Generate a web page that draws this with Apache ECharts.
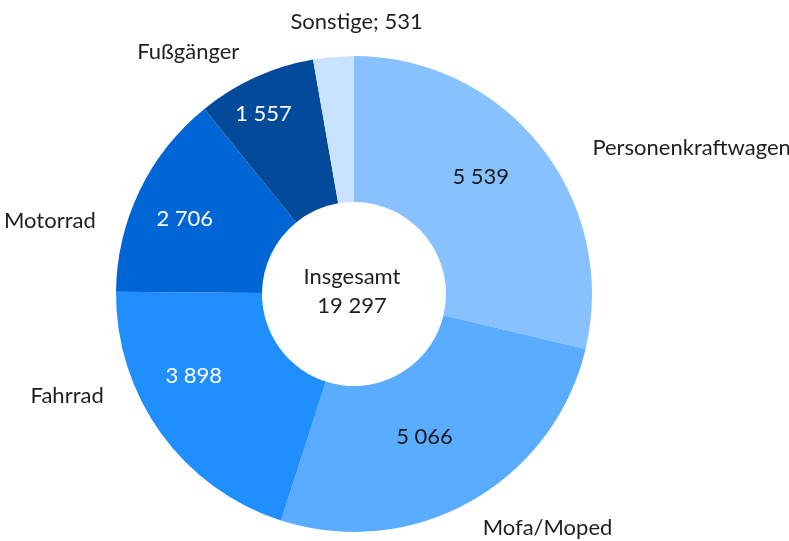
<!DOCTYPE html>
<html><head><meta charset="utf-8">
<script src="https://cdn.jsdelivr.net/npm/echarts@6/dist/echarts.min.js"></script>
<style>html,body{margin:0;padding:0;background:#fff}#c{width:789px;height:541px}</style>
</head><body><div id="c"></div>
<script>
// ---- data ----
const categories = ['Personenkraftwagen', 'Mofa/Moped', 'Fahrrad', 'Motorrad', 'Fußgänger', 'Sonstige'];
const values = [5539, 5066, 3898, 2706, 1557, 531];
const centerTitle = 'Insgesamt';

// ---- styling ----
const colors = ['#87c1ff', '#59acff', '#1f8fff', '#0066d6', '#044a9b', '#c9e3ff'];
const innerLabelColors = ['#1a1a1a', '#1a1a1a', '#ffffff', '#ffffff', '#ffffff', '#1a1a1a'];
const innerLabelShow = [true, true, true, true, true, false];
const outerShowValue = [false, false, false, false, false, true];
const innerNudge = [[-5, -13], [-12, -3], [-24, -16], [-18, -2], [-21, -27], [0, 0]];
const outerNudge = [[36, 14], [2, 9], [-41, -49], [-26, 39], [-8, -7], [91, -15]];

const FONT = 'Lato';
const TEXT = '#1f1f1f';
function fmt(v) { return String(v).replace(/\B(?=(\d{3})+(?!\d))/g, ' '); }
const total = values.reduce((a, b) => a + b, 0);

const center = [354, 294];
const radius = [92, 238];

const innerData = categories.map((c, i) => ({
  name: c, value: values[i],
  itemStyle: { color: colors[i] },
  label: { show: innerLabelShow[i], color: innerLabelColors[i] }
}));
const outerData = categories.map((c, i) => ({
  name: c, value: values[i]
}));

const chart = echarts.init(document.getElementById('c'), null, { renderer: 'canvas' });
chart.setOption({
  animation: false,
  backgroundColor: '#ffffff',
  series: [
    {
      type: 'pie',
      center: center,
      radius: radius,
      startAngle: 90,
      clockwise: true,
      avoidLabelOverlap: false,
      silent: true,
      itemStyle: { borderWidth: 0 },
      label: {
        position: 'inside',
        fontFamily: FONT, fontSize: 22,
        formatter: p => fmt(p.value)
      },
      labelLine: { show: false },
      labelLayout: p => ({ dx: innerNudge[p.dataIndex][0], dy: innerNudge[p.dataIndex][1] }),
      data: innerData
    },
    {
      type: 'pie',
      center: center,
      radius: radius,
      startAngle: 90,
      clockwise: true,
      avoidLabelOverlap: false,
      silent: true,
      itemStyle: { color: 'rgba(0,0,0,0)', borderWidth: 0 },
      label: {
        position: 'outside',
        fontFamily: FONT, fontSize: 22, color: TEXT,
        distanceToLabelLine: 0,
        formatter: p => outerShowValue[p.dataIndex] ? p.name + '; ' + fmt(p.value) : p.name
      },
      labelLine: { show: false, length: 20, length2: 0 },
      labelLayout: p => ({ dx: outerNudge[p.dataIndex][0], dy: outerNudge[p.dataIndex][1] }),
      data: outerData
    }
  ],
  graphic: [
    {
      type: 'text',
      x: 352, y: 291,
      silent: true,
      style: {
        text: centerTitle + '\n' + fmt(total),
        fontFamily: FONT, fontSize: 22, lineHeight: 29,
        fill: TEXT, align: 'center', verticalAlign: 'middle'
      }
    }
  ]
});
</script></body></html>
